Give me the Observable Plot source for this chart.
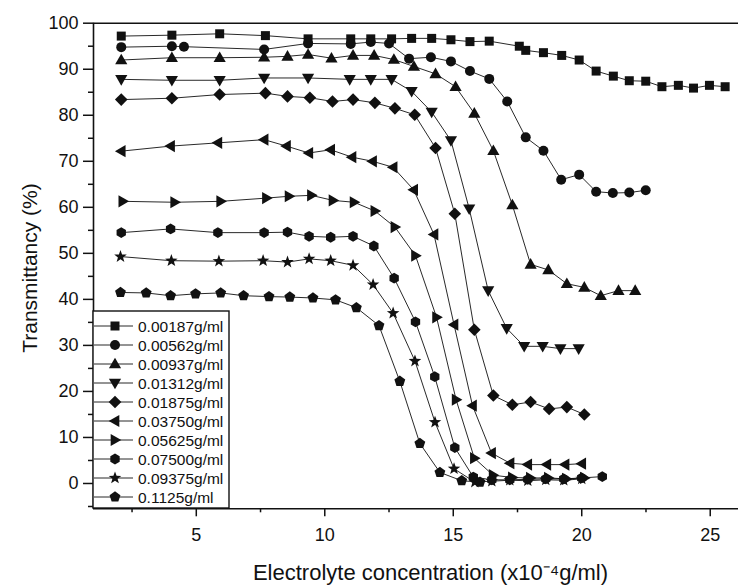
<!DOCTYPE html>
<html><head><meta charset="utf-8">
<script src="https://cdn.jsdelivr.net/npm/d3@7"></script>
<script src="https://cdn.jsdelivr.net/npm/@observablehq/plot@0.6"></script>
<style>
body{margin:0;background:#fff;}
#wrap{position:relative;width:738px;height:586px;font-family:"Liberation Sans",Arial,sans-serif;color:#111;overflow:hidden;}
#xt{position:absolute;left:108px;width:645px;top:561px;text-align:center;font-size:22px;line-height:24px;}
#yt{position:absolute;left:30px;top:268px;transform:translate(-50%,-50%) rotate(-90deg);font-size:21px;white-space:nowrap;}
</style></head><body><div id="wrap"></div><script>
const labels = ["0.00187g/ml","0.00562g/ml","0.00937g/ml","0.01312g/ml","0.01875g/ml","0.03750g/ml","0.05625g/ml","0.07500g/ml","0.09375g/ml","0.1125g/ml"];
const c00187 = [[2.08,97.2],[4.05,97.4],[5.91,97.7],[7.69,97.3],[9.35,96.6],[11.01,96.6],[11.79,96.6],[12.6,96.6],[13.38,96.7],[14.16,96.7],[14.91,96.4],[15.65,96.0],[16.4,96.1],[17.57,95.0],[17.82,94.1],[18.51,93.6],[19.22,93.0],[19.9,92.0],[20.56,89.6],[21.23,88.5],[21.85,87.5],[22.49,87.4],[23.12,86.2],[23.76,86.5],[24.35,85.9],[24.97,86.5],[25.58,86.2]];
const c00562 = [[2.08,94.8],[4.05,95.0],[4.52,94.9],[7.64,94.3],[9.35,95.6],[11.01,95.5],[11.79,95.9],[12.5,95.6],[13.28,92.3],[14.13,92.6],[14.91,91.7],[15.65,89.6],[16.4,87.9],[17.1,83.0],[17.82,75.2],[18.51,72.3],[19.2,66.0],[19.9,67.1],[20.56,63.4],[21.21,63.1],[21.85,63.2],[22.49,63.7]];
const c00937 = [[2.08,92.0],[4.05,92.5],[5.91,92.5],[7.64,92.6],[8.55,92.8],[9.35,93.2],[10.26,92.4],[11.1,93.0],[11.92,93.0],[12.69,92.1],[13.47,90.6],[14.31,89.0],[15.09,86.2],[15.82,80.4],[16.56,72.3],[17.3,60.5],[18.01,47.6],[18.7,46.4],[19.42,43.4],[20.1,42.6],[20.74,40.8],[21.43,41.9],[22.08,41.9]];
const c01312 = [[2.08,87.8],[4.05,87.6],[5.91,87.6],[7.64,88.1],[9.35,88.1],[10.97,87.8],[11.79,87.8],[12.6,87.8],[13.38,85.2],[14.16,80.7],[14.91,74.5],[15.62,59.7],[16.36,41.9],[17.08,33.7],[17.76,29.8],[18.48,29.8],[19.17,29.3],[19.88,29.3]];
const c01875 = [[2.08,83.4],[4.05,83.7],[5.91,84.5],[7.69,84.8],[8.55,84.1],[9.42,83.8],[10.3,83.0],[11.1,83.4],[11.95,82.7],[12.73,81.5],[13.5,80.1],[14.31,72.9],[15.06,58.6],[15.82,33.4],[16.56,19.1],[17.3,17.1],[18.01,17.7],[18.73,16.2],[19.42,16.6],[20.1,15.0]];
const c03750 = [[2.08,72.2],[4.0,73.3],[5.84,74.0],[7.64,74.7],[8.51,73.3],[9.38,71.8],[10.23,72.5],[11.06,70.9],[11.86,70.0],[12.66,68.7],[13.46,63.8],[14.25,54.1],[15.03,34.5],[15.75,16.9],[16.49,6.6],[17.21,4.4],[17.9,4.1],[18.64,4.1],[19.35,4.1],[20.0,4.3]];
const c05625 = [[2.14,61.3],[4.16,61.1],[5.95,61.3],[7.73,62.0],[8.61,62.4],[9.48,62.6],[10.32,61.5],[11.14,61.1],[11.95,59.2],[12.73,55.7],[13.53,49.5],[14.35,36.1],[15.11,18.2],[15.82,5.5],[16.55,1.8],[17.3,1.3],[18.0,1.2],[18.7,1.2],[19.4,1.0],[20.1,1.2]];
const c07500 = [[2.08,54.5],[4.0,55.3],[5.84,54.5],[7.64,54.5],[8.55,54.6],[9.39,53.7],[10.23,53.5],[11.1,53.7],[11.91,51.6],[12.7,44.6],[13.53,35.1],[14.28,23.2],[15.06,7.8],[15.78,1.4],[16.5,0.8],[17.2,0.8],[17.9,0.9],[18.6,1.0],[19.3,1.0],[20.0,1.2],[20.8,1.5]];
const c09375 = [[2.05,49.3],[4.03,48.4],[5.88,48.3],[7.6,48.4],[8.55,48.1],[9.39,48.8],[10.23,48.4],[11.1,47.4],[11.88,43.2],[12.66,37.0],[13.51,26.6],[14.29,13.3],[15.03,3.2],[15.84,0.3],[16.5,0.5],[17.2,0.7],[17.9,0.6],[18.6,0.8],[19.3,0.7],[20.0,1.0]];
const c11250 = [[2.05,41.5],[3.05,41.4],[4.0,40.8],[4.97,41.2],[5.95,41.4],[6.84,40.8],[7.83,40.6],[8.64,40.5],[9.54,40.3],[10.42,39.9],[11.23,38.2],[12.11,34.3],[12.92,22.2],[13.7,8.7],[14.48,2.4],[15.33,0.6],[16.04,0.3]];
const seriesData = [c00187,c00562,c00937,c01312,c01875,c03750,c05625,c07500,c09375,c11250];
const xDomain = [1, 26.1];
const yDomain = [-5.5, 100];
const xMajor = [5,10,15,20,25];
const xMinor = [2.5,7.5,12.5,17.5,22.5];
const yMajor = [0,10,20,30,40,50,60,70,80,90,100];
const yMinor = [-5,5,15,25,35,45,55,65,75,85,95];

// custom symbols (shape drawn relative to base radius 5)
function poly(pts){return {draw(ctx,size){const s=Math.sqrt(size/Math.PI)/5;ctx.moveTo(pts[0][0]*s,pts[0][1]*s);for(let i=1;i<pts.length;i++)ctx.lineTo(pts[i][0]*s,pts[i][1]*s);ctx.closePath();}};}
function ngon(n,R,rot){const p=[];for(let i=0;i<n;i++){const a=rot+i*2*Math.PI/n;p.push([R*Math.sin(a),-R*Math.cos(a)]);}return poly(p);}
function starPts(){const p=[];for(let i=0;i<10;i++){const a=i*Math.PI/5;const R=i%2?2.7:6.6;p.push([R*Math.sin(a),-R*Math.cos(a)]);}return poly(p);}
const symSquare = poly([[-4.5,-4.5],[4.5,-4.5],[4.5,4.5],[-4.5,4.5]]);
const symCircle = {draw(ctx,size){const s=Math.sqrt(size/Math.PI)/5;const r=5*s;ctx.moveTo(r,0);ctx.arc(0,0,r,0,2*Math.PI);}};
const symUp = poly([[0,-6.3],[6.1,4.3],[-6.1,4.3]]);
const symDown = poly([[0,6.3],[6.1,-4.3],[-6.1,-4.3]]);
const symDiamond = poly([[0,-6.3],[6.3,0],[0,6.3],[-6.3,0]]);
const symLeft = poly([[-6.3,0],[4.3,-6.1],[4.3,6.1]]);
const symRight = poly([[6.3,0],[-4.3,-6.1],[-4.3,6.1]]);
const symHex = ngon(6,5.4,0);
const symStar = starPts();
const symPent = ngon(5,5.7,0);
const symbols = [symSquare,symCircle,symUp,symDown,symDiamond,symLeft,symRight,symHex,symStar,symPent];

const rows = seriesData.flatMap((arr,i)=>arr.map(([x,y])=>({x,y,k:i})));

const marks = [
  Plot.line(rows,{x:"x",y:"y",z:"k",stroke:"#111",strokeWidth:0.9}),
  ...seriesData.map((arr,i)=>Plot.dot(rows.filter(d=>d.k===i),{x:"x",y:"y",r:5,symbol:symbols[i],fill:"#111",stroke:"none"})),
  Plot.ruleX([xDomain[0]],{stroke:"#111",strokeWidth:1.6}),
  Plot.ruleY([yDomain[1]],{stroke:"#111",strokeWidth:1.6}),
  Plot.ruleY([yDomain[0]],{stroke:"#111",strokeWidth:1.6}),
  Plot.axisY({ticks:yMajor,tickSize:10,tickPadding:5,label:null,strokeWidth:1.5,fontSize:18}),
  Plot.axisY({ticks:yMinor,tickSize:5,text:null,label:null,strokeWidth:1.5}),
  Plot.axisX({ticks:xMajor,tickSize:8,tickPadding:11,label:null,strokeWidth:1.5,fontSize:18}),
  Plot.axisX({ticks:xMinor,tickSize:4,text:null,label:null,strokeWidth:1.5})
];

const chart = Plot.plot({
  width:738,height:586,
  marginLeft:93,marginRight:0,marginTop:22.7,marginBottom:77.7,
  x:{domain:xDomain},
  y:{domain:yDomain},
  style:{fontFamily:'"Liberation Sans",Arial,sans-serif',color:"#111",background:"white",fontSize:"18px"},
  marks
});
const wrap = document.getElementById("wrap");
wrap.appendChild(chart);

const xt = document.createElement("div"); xt.id="xt"; xt.textContent="Electrolyte concentration (x10\u207B\u2074g/ml)"; wrap.appendChild(xt);
const yt = document.createElement("div"); yt.id="yt"; yt.textContent="Transmittancy (%)"; wrap.appendChild(yt);

// legend
const legW=136, legH=197, rowH=19, row0=15;
const leg = d3.create("svg").attr("width",legW+2).attr("height",legH+2)
  .style("position","absolute").style("left","92px").style("top","310px");
leg.append("rect").attr("x",1).attr("y",1).attr("width",legW).attr("height",legH)
  .attr("fill","white").attr("stroke","#111").attr("stroke-width",1.4);
labels.forEach((lab,i)=>{
  const cy = 1+row0+i*rowH;
  leg.append("line").attr("x1",2).attr("x2",41).attr("y1",cy).attr("y2",cy).attr("stroke","#111").attr("stroke-width",0.9);
  leg.append("path").attr("transform",`translate(23,${cy})`).attr("d",d3.symbol().type(symbols[i]).size(Math.PI*25)()).attr("fill","#111");
  leg.append("text").attr("x",46).attr("y",cy).attr("dy","0.36em").attr("font-size",15.5)
    .attr("font-family",'"Liberation Sans",Arial,sans-serif').attr("fill","#111").text(lab);
});
wrap.appendChild(leg.node());
</script></body></html>
